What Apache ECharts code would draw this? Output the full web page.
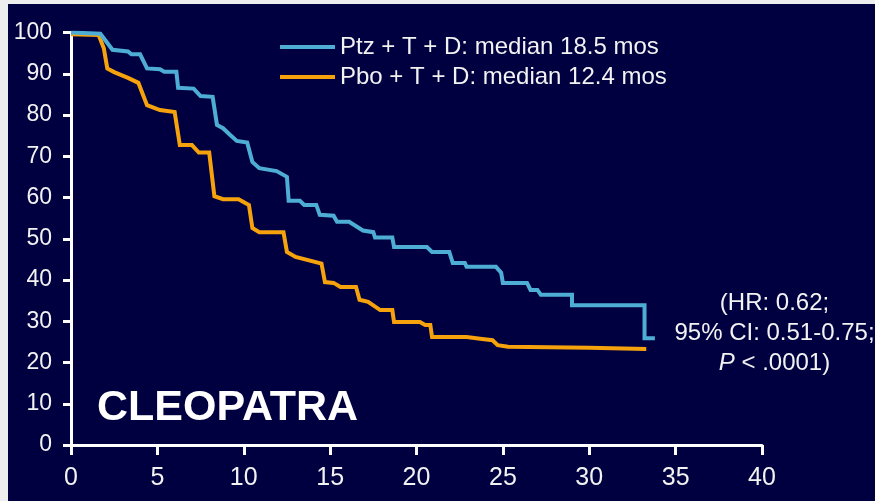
<!DOCTYPE html>
<html>
<head>
<meta charset="utf-8">
<script src="https://cdn.jsdelivr.net/npm/echarts@6/dist/echarts.min.js"></script>
<style>
  html, body { margin: 0; padding: 0; background: #eeeeee; width: 875px; height: 501px; overflow: hidden; }
  #chart { position: absolute; left: 8px; top: 4px; width: 867px; height: 497px; }
</style>
</head>
<body>
<div id="chart"></div>
<script>
// ---- Data ----
const seriesNames = ['Ptz + T + D: median 18.5 mos', 'Pbo + T + D: median 12.4 mos'];

// Kaplan-Meier style curve vertices [months, % event-free]
const ptzCurve = [
  [0, 100], [1.7, 99.7], [2.4, 95.8], [3.3, 95.4], [3.5, 94.7], [4.0, 94.7],
  [4.4, 91.3], [5.15, 91.1], [5.4, 90.5], [6.1, 90.5], [6.2, 86.6], [7.1, 86.4],
  [7.5, 84.6], [8.2, 84.4], [8.45, 77.6], [8.8, 76.8], [9.2, 75.2], [9.6, 73.7],
  [10.2, 73.3], [10.5, 68.6], [10.9, 67.1], [11.9, 66.4], [12.5, 65.0], [12.6, 59.2],
  [13.25, 59.2], [13.5, 58.2], [14.2, 58.2], [14.4, 55.8], [15.2, 55.6], [15.4, 54.1],
  [16.1, 54.1], [16.9, 52.0], [17.5, 51.6], [17.6, 50.3], [18.6, 50.3], [18.7, 48.0],
  [20.6, 48.0], [20.9, 46.8], [21.9, 46.8], [22.1, 44.1], [22.8, 44.1], [22.9, 43.2],
  [24.6, 43.2], [24.9, 41.8], [25.0, 39.3], [26.4, 39.3], [26.6, 37.6], [27.0, 37.6],
  [27.2, 36.4], [29.0, 36.4], [29.0, 33.9], [33.2, 33.9], [33.2, 25.9], [33.8, 25.9]
];
const pboCurve = [
  [0, 99.6], [1.6, 99.4], [1.9, 96.2], [2.1, 91.3], [2.5, 90.4], [3.3, 89.0],
  [3.9, 87.8], [4.4, 82.4], [5.15, 81.2], [6.0, 80.7], [6.3, 72.7], [7.0, 72.7],
  [7.4, 70.9], [8.0, 70.9], [8.3, 60.3], [8.8, 59.6], [9.7, 59.6], [10.3, 58.2],
  [10.5, 52.6], [10.9, 51.6], [12.3, 51.6], [12.5, 46.8], [13.0, 45.6], [14.5, 44.0],
  [14.7, 39.5], [15.2, 39.3], [15.6, 38.3], [16.5, 38.3], [16.7, 35.2], [17.2, 34.7],
  [17.9, 32.7], [18.6, 32.7], [18.7, 29.8], [20.2, 29.8], [20.5, 29.1], [20.8, 29.1],
  [20.9, 26.2], [22.9, 26.2], [23.8, 25.7], [24.4, 25.4], [24.7, 24.2], [25.3, 23.8],
  [30.0, 23.6], [33.3, 23.3]
];

const xTicks = { min: 0, max: 40, interval: 5 };
const yTicks = { min: 0, max: 100, interval: 10 };

const trialLabel = 'CLEOPATRA';
const statsLines = ['(HR: 0.62;', '95% CI: 0.51-0.75;', '{i|P} < .0001)'];

// ---- Styling ----
const FONT = '"Liberation Sans", Arial, sans-serif';
const NAVY = '#000040';
const BLUE = '#4eadd4';
const ORANGE = '#f6a20c';
const TXT = '#f2f2f2';

const chart = echarts.init(document.getElementById('chart'), null, { renderer: 'canvas' });

const axisCommon = {
  axisLine: { show: true, lineStyle: { color: '#ffffff', width: 3 } },
  splitLine: { show: false },
};

chart.setOption({
  backgroundColor: NAVY,
  animation: false,
  grid: { left: 63, top: 28.5, width: 691, height: 412.5, containLabel: false },
  legend: {
    left: 267, top: 26, orient: 'vertical',
    icon: 'rect', itemWidth: 55, itemHeight: 4, itemGap: 6,
    textStyle: { color: TXT, fontSize: 24, fontFamily: FONT, lineHeight: 24 },
    data: seriesNames
  },
  xAxis: Object.assign({}, axisCommon, {
    type: 'value', min: xTicks.min, max: xTicks.max, interval: xTicks.interval,
    axisTick: { show: true, length: 10, lineStyle: { color: '#ffffff', width: 3 } },
    axisLabel: { color: TXT, fontSize: 25, fontFamily: FONT, margin: 21 }
  }),
  yAxis: Object.assign({}, axisCommon, {
    type: 'value', min: yTicks.min, max: yTicks.max, interval: yTicks.interval,
    axisTick: { show: true, length: 8, lineStyle: { color: '#ffffff', width: 3 } },
    axisLabel: { color: TXT, fontSize: 23, fontFamily: FONT, margin: 19 }
  }),
  series: [
    { name: seriesNames[1], type: 'line', data: pboCurve, showSymbol: false, symbol: 'none',
      lineStyle: { color: ORANGE, width: 4, join: 'miter' }, itemStyle: { color: ORANGE }, z: 2 },
    { name: seriesNames[0], type: 'line', data: ptzCurve, showSymbol: false, symbol: 'none',
      lineStyle: { color: BLUE, width: 4, join: 'miter' }, itemStyle: { color: BLUE }, z: 3 }
  ],
  graphic: [
    { type: 'text', left: 89, top: 383, z: 10,
      style: { text: trialLabel, fill: '#ffffff', font: 'bold 43px ' + FONT } },
    { type: 'text', x: 766.5, y: 329, z: 10,
      style: {
        text: statsLines.join('\n'), fill: TXT, fontSize: 24, fontFamily: FONT,
        lineHeight: 30, align: 'center', verticalAlign: 'middle',
        rich: { i: { fontStyle: 'italic', fontSize: 24, fontFamily: FONT, fill: TXT, lineHeight: 30 } }
      } }
  ]
});
</script>
</body>
</html>
